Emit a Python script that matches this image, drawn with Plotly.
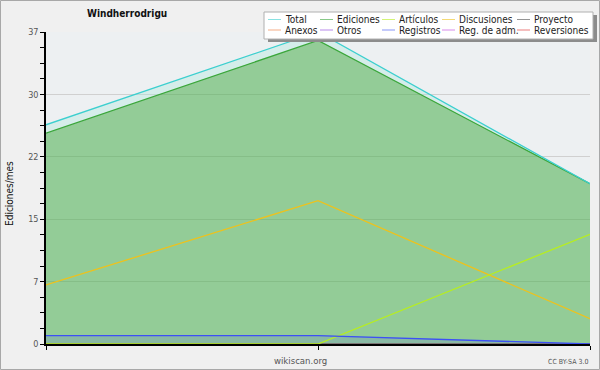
import plotly.graph_objects as go

# ---- data ----
months = ["Mes 1", "Mes 2", "Mes 3"]
total = [26, 37, 19]
ediciones = [25, 36, 19]
articulos = [0, 0, 13]
discusiones = [7, 17, 3]
proyecto = [0, 0, 0]
anexos = [0, 0, 0]
otros = [0, 0, 0]
registros = [1, 1, 0]
reg_adm = [0, 0, 0]
reversiones = [0, 0, 0]

y_tickvals = [0, 7.4, 14.8, 22.2, 29.6, 37]
y_ticktext = ["0", "7", "15", "22", "30", "37"]

series_names = ["Total", "Ediciones", "Artículos", "Discusiones", "Proyecto",
                "Anexos", "Otros", "Registros", "Reg. de adm.", "Reversiones"]
series_values = [total, ediciones, articulos, discusiones, proyecto,
                 anexos, otros, registros, reg_adm, reversiones]
series_colors = ["#3ccfcf", "#3aa63a", "#b8ee1e", "#eec21c", "#505050",
                 "#f07838", "#8a3ce0", "#3c50f5", "#c040e0", "#e02828"]

FONT = "DejaVu Sans Condensed, DejaVu Sans"
W, H = 600, 370
ML, MR, MT, MB = 46, 10, 32, 26
PW, PH = W - ML - MR, H - MT - MB


def px(x):
    return (x - ML) / PW


def py(y):
    return (H - MB - y) / PH


fig = go.Figure()

# zero series first (hidden under the axis)
for name, vals, col in zip(series_names, series_values, series_colors):
    if name in ("Proyecto", "Anexos", "Otros", "Reg. de adm.", "Reversiones"):
        fig.add_trace(go.Scatter(x=months, y=vals, mode="lines", name=name,
                                 line=dict(color=col, width=1.2)))

fig.add_trace(go.Scatter(x=months, y=ediciones, mode="lines", name="Ediciones",
                         fill="tozeroy", fillcolor="rgba(72,174,76,0.55)",
                         line=dict(color=series_colors[1], width=1.3)))
fig.add_trace(go.Scatter(x=months, y=total, mode="lines", name="Total",
                         fill="tonexty", fillcolor="rgba(170,232,222,0.35)",
                         line=dict(color=series_colors[0], width=1.3)))
fig.add_trace(go.Scatter(x=months, y=registros, mode="lines", name="Registros",
                         fill="tozeroy", fillcolor="rgba(80,80,240,0.15)",
                         line=dict(color="rgba(0,0,0,0)", width=0)))
fig.add_trace(go.Scatter(x=months, y=discusiones, mode="lines", name="Discusiones",
                         line=dict(color=series_colors[3], width=1.3)))
fig.add_trace(go.Scatter(x=months, y=articulos, mode="lines", name="Artículos",
                         line=dict(color=series_colors[2], width=1.3)))
fig.add_trace(go.Scatter(x=months, y=registros, mode="lines", name="Registros",
                         line=dict(color=series_colors[7], width=1.3)))

shapes = []
annotations = []

# outer border
shapes.append(dict(type="rect", xref="paper", yref="paper",
                   x0=px(0.5), x1=px(W - 0.5), y0=py(0.5), y1=py(H - 0.5),
                   line=dict(color="#a8a8a8", width=1), layer="below"))

# manual legend
shapes.append(dict(type="rect", xref="paper", yref="paper",
                   x0=px(268), x1=px(597), y0=py(15), y1=py(42),
                   fillcolor="#8c8c8c", line=dict(width=0), layer="above"))
shapes.append(dict(type="rect", xref="paper", yref="paper",
                   x0=px(264), x1=px(593), y0=py(12), y1=py(39),
                   fillcolor="#ffffff", line=dict(color="#b0b0b0", width=1), layer="above"))
col_x = [268, 320, 382, 442, 517]
row_y = [19.5, 30]
for i, (name, col) in enumerate(zip(series_names, series_colors)):
    r, c = divmod(i, 5)
    x0 = col_x[c]
    yy = row_y[r]
    shapes.append(dict(type="line", xref="paper", yref="paper",
                       x0=px(x0), x1=px(x0 + 13), y0=py(yy), y1=py(yy),
                       line=dict(color=col, width=1), opacity=0.6, layer="above"))
    annotations.append(dict(text=name, xref="paper", yref="paper",
                            x=px(x0 + 15), y=py(yy), xanchor="left", yanchor="middle",
                            showarrow=False, font=dict(family=FONT, size=10, color="#222222")))

# title
annotations.append(dict(text="<b>Windherrodrigu</b>", xref="paper", yref="paper",
                        x=px(85), y=py(14), xanchor="left", yanchor="middle",
                        showarrow=False, font=dict(family=FONT, size=10, color="#111111")))
# y title
annotations.append(dict(text="Ediciones/mes", xref="paper", yref="paper",
                        x=px(10), y=py(194), xanchor="center", yanchor="middle",
                        textangle=-90, showarrow=False,
                        font=dict(family=FONT, size=10, color="#111111")))
# footer
annotations.append(dict(text="wikiscan.org", xref="paper", yref="paper",
                        x=px(300), y=py(360), xanchor="center", yanchor="middle",
                        showarrow=False, font=dict(family=FONT, size=9.5, color="#555555")))
annotations.append(dict(text="CC BY-SA 3.0", xref="paper", yref="paper",
                        x=px(590), y=py(362), xanchor="right", yanchor="middle",
                        showarrow=False, font=dict(family=FONT, size=7, color="#555555")))

fig.update_layout(
    width=W, height=H,
    margin=dict(l=ML, r=MR, t=MT, b=MB, pad=0),
    paper_bgcolor="#f0f0f0",
    plot_bgcolor="#edf0f2",
    showlegend=False,
    hovermode=False,
    shapes=shapes,
    annotations=annotations,
    xaxis=dict(type="category", range=[0, 2], showticklabels=False,
               ticks="outside", ticklen=4, tickcolor="#000000",
               showline=True, linecolor="#000000", linewidth=1.5,
               showgrid=False, zeroline=False),
    yaxis=dict(range=[0, 37], tickmode="array", tickvals=y_tickvals, ticktext=y_ticktext,
               ticks="outside", ticklen=4, tickcolor="#000000",
               tickfont=dict(family=FONT, size=9, color="#555555"),
               showline=True, linecolor="#000000", linewidth=1.5,
               showgrid=True, gridcolor="#d0d0d0", gridwidth=1, zeroline=False,
               minor=dict(tickmode="linear", tick0=0, dtick=1.85, ticks="outside",
                          ticklen=4, tickcolor="#000000", showgrid=False)),
)

fig.write_html("out.html", config={"displayModeBar": False},
               post_script="document.body.style.margin='0';document.body.style.padding='0';")
